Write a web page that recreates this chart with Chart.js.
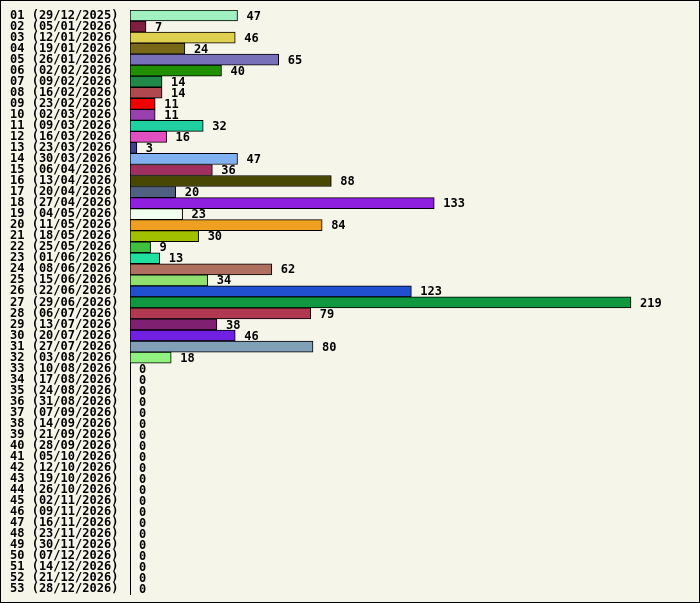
<!DOCTYPE html>
<html><head><meta charset="utf-8">
<script src="https://cdn.jsdelivr.net/npm/chart.js@4/dist/chart.umd.min.js"></script>
<style>
html,body{margin:0;padding:0;background:#f5f5e9;}
#wrap{position:absolute;left:0;top:0;width:698px;height:601px;border:1px solid #000;background:#f5f5e9;}
</style></head><body>
<div id="wrap"><canvas id="c" width="698" height="601"></canvas></div>
<script>
const weeks = ["29/12/2025","05/01/2026","12/01/2026","19/01/2026","26/01/2026","02/02/2026","09/02/2026","16/02/2026","23/02/2026","02/03/2026","09/03/2026","16/03/2026","23/03/2026","30/03/2026","06/04/2026","13/04/2026","20/04/2026","27/04/2026","04/05/2026","11/05/2026","18/05/2026","25/05/2026","01/06/2026","08/06/2026","15/06/2026","22/06/2026","29/06/2026","06/07/2026","13/07/2026","20/07/2026","27/07/2026","03/08/2026","10/08/2026","17/08/2026","24/08/2026","31/08/2026","07/09/2026","14/09/2026","21/09/2026","28/09/2026","05/10/2026","12/10/2026","19/10/2026","26/10/2026","02/11/2026","09/11/2026","16/11/2026","23/11/2026","30/11/2026","07/12/2026","14/12/2026","21/12/2026","28/12/2026"];
const labels = weeks.map((d,i)=>String(i+1).padStart(2,"0")+" ("+d+")");
const values = [47,7,46,24,65,40,14,14,11,11,32,16,3,47,36,88,20,133,23,84,30,9,13,62,34,123,219,79,38,46,80,18,0,0,0,0,0,0,0,0,0,0,0,0,0,0,0,0,0,0,0,0,0];
const colors = ["#a0f0c0","#802040","#e0d050","#786818","#7870b8","#209000","#208848","#b04850","#f00000","#9840b0","#20d0a0","#e050c0","#404090","#80b0f0","#a03060","#484800","#506080","#9020e0","#f0fff0","#f0a020","#a0c000","#40c040","#20e0a0","#b07060","#90e070","#2050d0","#109840","#b03850","#802070","#7020e0","#80a0b8","#90f080"];
const FONT = {family:"'DejaVu Sans Mono', monospace", size:12, weight:"bold"};
const valueLabels = {
  id:"valueLabels",
  afterDatasetsDraw(chart){
    const ctx = chart.ctx, meta = chart.getDatasetMeta(0);
    ctx.save();
    ctx.font = "bold 12px 'DejaVu Sans Mono', monospace";
    ctx.fillStyle = "#000"; ctx.textBaseline = "middle";
    meta.data.forEach((b,i)=>{ ctx.fillText(String(values[i]), b.x+9, b.y+1); });
    ctx.restore();
  }
};
new Chart(document.getElementById("c"),{
  type:"bar",
  data:{labels, datasets:[{data:values, backgroundColor:values.map((v,i)=>colors[i]||"#ccc"),
    borderColor:"#000", borderWidth:1, borderSkipped:false, categoryPercentage:1, barPercentage:1}]},
  options:{
    indexAxis:"y", responsive:false, animation:false, devicePixelRatio:1,
    layout:{padding:{left:9,right:20,top:9,bottom:6}},
    plugins:{legend:{display:false}, tooltip:{enabled:false}},
    scales:{
      x:{min:0,max:240,display:false},
      y:{grid:{display:false,drawTicks:false}, border:{display:true,color:"#000",width:1},
        afterFit(s){ s.width = 120; },
        ticks:{color:"#000", font:FONT, padding:0, autoSkip:false, crossAlign:"far"}}
    }
  },
  plugins:[valueLabels]
});
</script>
</body></html>
